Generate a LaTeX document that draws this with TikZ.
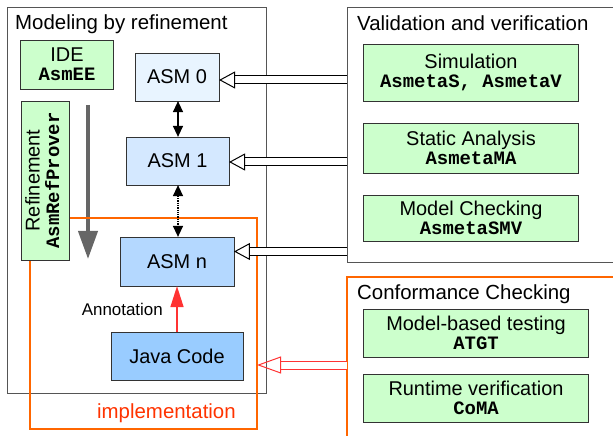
\documentclass[tikz,border=0pt]{standalone}
\usepackage{fontspec}
\usepackage{graphicx}
\setmainfont{Liberation Sans}
\setmonofont{Liberation Mono}
\usetikzlibrary{arrows.meta}

\definecolor{toolGreen}{HTML}{CCFFCC}
\definecolor{asmZero}{HTML}{E8F4FF}
\definecolor{asmOne}{HTML}{D4E8FF}
\definecolor{asmN}{HTML}{B4D8FF}
\definecolor{javaBlue}{HTML}{99CCFF}
\definecolor{implOrange}{HTML}{FF6600}
\definecolor{implText}{HTML}{FF3300}
\definecolor{annRed}{HTML}{FF3333}
\definecolor{frameGrey}{HTML}{555555}

\newcommand{\tool}[1]{{\fontsize{19}{19}\selectfont\texttt{\textbf{#1}}}}

\begin{document}
\begin{tikzpicture}[x=1bp, y=-1bp,
	every node/.style={font=\fontsize{20}{19}\selectfont},
	toolbox/.style={draw=black!80, fill=toolGreen, align=center, inner sep=0pt},
	asmbox/.style={draw=black!80, inner sep=0pt, minimum height=48},
	framebox/.style={draw=frameGrey, line width=1bp},
	orangebox/.style={draw=implOrange, line width=1.3bp},
	title/.style={anchor=base west, inner sep=0pt, font=\fontsize{20.5}{20}\selectfont},
	dblarrow/.style={line width=1.3bp, {Triangle[length=11bp, width=10bp]}-{Triangle[length=11bp, width=10bp]}},
	hollow/.style={draw=black, line width=1bp, double=white, double distance=7bp,
		-{Triangle[open, length=16bp, width=17bp]}},
	redhollow/.style={hollow, draw=annRed, -{Triangle[open, length=24bp, width=17bp]}}]
	
	\useasboundingbox (0,0) rectangle (613,436);
	\clip (0,0) rectangle (613,436);
	
	% Big grey refinement arrow (under the orange frame)
	\coordinate (gTop) at (88,105);
	\coordinate (gBot) at (88,259);
	\draw[black!60, line width=4bp, -{Triangle[length=28bp, width=19bp]}] (gTop) -- (gBot);
	
	% Frames
	\draw[framebox] (7,8) rectangle (266,393);
	\draw[orangebox] (30,218) rectangle (257,429);
	\draw[framebox] (347,8) rectangle (630,263);
	\draw[orangebox] (347,277) rectangle (630,450);
	\coordinate (vvWest) at (347,0);
	\coordinate (ccWest) at (347,365);
	\coordinate (implEast) at (257,365);
	
	% Titles
	\node[title] at (15,30) {Modeling by refinement};
	\node[title] at (357,31) {Validation and verification};
	\node[title] at (357,300) {Conformance Checking};
	\node[title, text=implText] at (97,418) {implementation};
	
	% Left side: IDE, refinement and the ASM chain
	\node[toolbox, minimum width=93, minimum height=49] (ide) at (67,64.5) {IDE\\\tool{AsmEE}};
	\node[toolbox, minimum width=48, minimum height=159] (ref) at (45,180.5)
		{\rotatebox{90}{\begin{tabular}{@{}c@{}}Refinement\\\tool{AsmRefProver}\end{tabular}}};
	
	\node[asmbox, fill=asmZero, minimum width=84] (a0) at (177,77) {ASM 0};
	\node[asmbox, fill=asmOne, minimum width=103] (a1) at (177.5,161) {ASM 1};
	\node[asmbox, fill=asmN, minimum width=114, minimum height=49] (an) at (177,261.5) {ASM n};
	\node[asmbox, fill=javaBlue, minimum width=132] (java) at (177,356) {Java Code};
	
	\draw[dblarrow] (a0.south -| 178,0) -- (a1.north -| 178,0);
	\draw[dblarrow, densely dotted] (a1.south -| 178,0) -- (an.north -| 178,0);
	\draw[annRed, line width=1.5bp, -{Triangle[length=21bp, width=13bp]}] (java.north) -- (an.south);
	\node[anchor=base east, inner sep=0pt, font=\fontsize{17}{18}\selectfont] at (163,315) {Annotation};
	
	% Right side: validation and verification tools
	\node[toolbox, minimum width=216, minimum height=57] (sim) at (471,72.5) {Simulation\\\tool{AsmetaS, AsmetaV}};
	\node[toolbox, minimum width=216, minimum height=50] (sa) at (471,148) {Static Analysis\\\tool{AsmetaMA}};
	\node[toolbox, minimum width=216, minimum height=46] (mc) at (471,218) {Model Checking\\\tool{AsmetaSMV}};
	
	% Conformance checking tools
	\node[toolbox, minimum width=226, minimum height=48] (mbt) at (476,333) {Model-based testing\\\tool{ATGT}};
	\node[toolbox, minimum width=226, minimum height=48] (rv) at (476,398) {Runtime verification\\\tool{CoMA}};
	
	% Hollow arrows into the models
	\draw[hollow] ([yshift=-3bp]vvWest |- a0.east) -- ([yshift=-3bp]a0.east);
	\draw[hollow] ([yshift=-1bp]vvWest |- a1.east) -- ([yshift=-1bp]a1.east);
	\draw[hollow] ([yshift=10bp]vvWest |- an.east) -- ([yshift=10bp]an.east);
	\draw[redhollow] (ccWest) -- (implEast);
\end{tikzpicture}
\end{document}
